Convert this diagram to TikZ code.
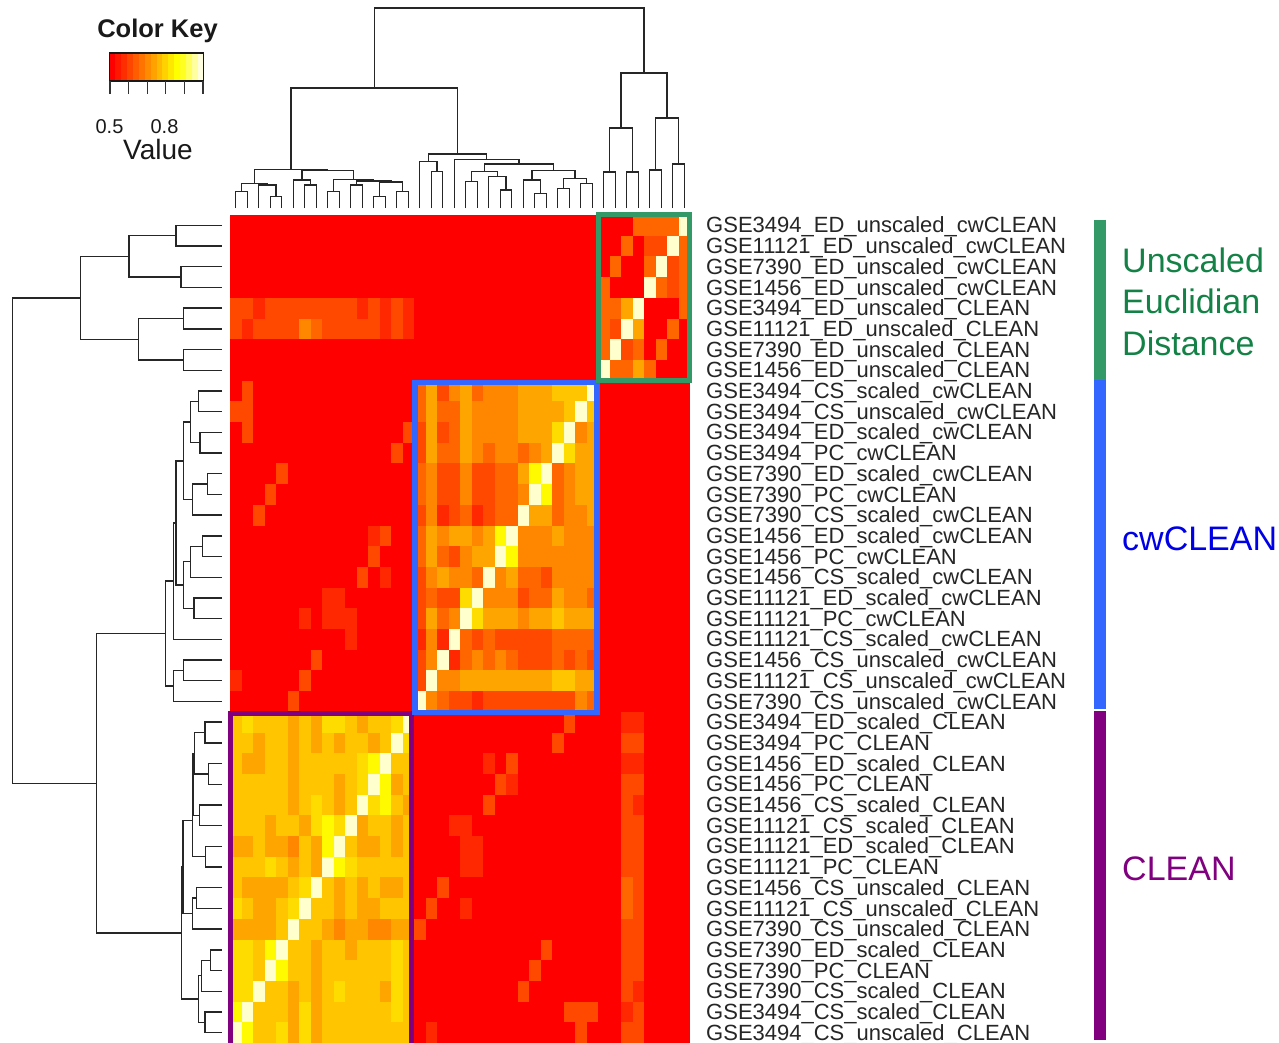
\documentclass[tikz,border=0pt]{standalone}
\usepackage{fontspec}
\setmainfont{Liberation Sans}
\usetikzlibrary{calc}
\definecolor{hma}{RGB}{255,0,0}
\definecolor{hmb}{RGB}{255,40,0}
\definecolor{hmc}{RGB}{255,72,0}
\definecolor{hmd}{RGB}{255,102,0}
\definecolor{hme}{RGB}{255,135,0}
\definecolor{hmf}{RGB}{255,165,0}
\definecolor{hmg}{RGB}{255,198,0}
\definecolor{hmh}{RGB}{255,220,0}
\definecolor{hmy}{RGB}{255,250,0}
\definecolor{hmw}{RGB}{255,255,205}
\definecolor{grpgreen}{RGB}{51,153,102}
\definecolor{txtgreen}{RGB}{20,130,70}
\definecolor{grpblue}{RGB}{51,102,255}
\definecolor{txtblue}{RGB}{0,0,230}
\definecolor{grppurple}{RGB}{128,0,128}
\newcount\hmcol
\newcount\hmrowc
\def\hmrow#1{\global\hmcol=0 \hmloop#1\relax\global\advance\hmrowc by 1 }
\def\hmloop#1{\ifx#1\relax\else\hmcell#1\global\advance\hmcol by 1 \expandafter\hmloop\fi}
\def\hmcell#1{\fill[hm#1] ({230+11.5*\the\hmcol},{-215-20.7*\the\hmrowc}) rectangle ++(11.9,-21.1);}
\newcommand\tmerge[4]{\path let \p1=(#2), \p2=(#3) in coordinate (#1) at ({(\x1+\x2)/2},{-#4pt});
  \draw[dendro] (#2) |- (#1) -| (#3);}
\newcommand\lmerge[4]{\path let \p1=(#2), \p2=(#3) in coordinate (#1) at ({#4pt},{(\y1+\y2)/2});
  \draw[dendro] (#2) -| (#1) |- (#3);}
\begin{document}
\begin{tikzpicture}[x=1pt,y=1pt,
  dendro/.style={line width=1.4pt, black!85},
  lab/.style={anchor=base west, inner sep=0pt, font=\fontsize{22}{22}\selectfont, text=black!85},
  grp/.style={anchor=base west, inner sep=0pt, font=\fontsize{34}{34}\selectfont},
  keytxt/.style={anchor=base, inner sep=0pt, text=black!90}]
\path[use as bounding box] (0,0) rectangle (1279,-1042);
\clip (0,0) rectangle (1279,-1042);
\fill[white] (0,0) rectangle (1279,-1042);

% ---------------- heatmap ----------------
\global\hmrowc=0
\hmrow{aaaaaaaaaaaaaaaa aaaaaaaaaaaaaaaa aaaddddw}
\hmrow{aaaaaaaaaaaaaaaa aaaaaaaaaaaaaaaa aadaccwd}
\hmrow{aaaaaaaaaaaaaaaa aaaaaaaaaaaaaaaa adaadwcd}
\hmrow{aaaaaaaaaaaaaaaa aaaaaaaaaaaaaaaa daaawdcd}
\hmrow{ccbccccccccbcbcb aaaaaaaaaaaaaaaa ddfwaaad}
\hmrow{cbccccedcccccbcb aaaaaaaaaaaaaaaa dcwfaada}
\hmrow{aaaaaaaaaaaaaaaa aaaaaaaaaaaaaaaa dwcdadaa}
\hmrow{aaaaaaaaaaaaaaaa aaaaaaaaaaaaaaaa wddfdaaa}
\hmrow{acaaaaaaaaaaaaaa dfcefdeeefffgggw aaaaaaaa}
\hmrow{ccaaaaaaaaaaaaaa dfddfeeeeffffgwg aaaaaaaa}
\hmrow{acaaaaaaaaaaaaac cfcdfeeeefffhwef aaaaaaaa}
\hmrow{aaaaaaaaaaaaaaca cfddfedeedefwhff aaaaaaaa}
\hmrow{aaaacaaaaaaaaaaa decceccddfywdeff aaaaaaaa}
\hmrow{aaacaaaaaaaaaaaa decceccddewydeff aaaaaaaa}
\hmrow{aacaaaaaaaaaaaaa cebcdbcddwffdeef aaaaaaaa}
\hmrow{aaaaaaaaaaaabcaa dfeffefyweeefeee aaaaaaaa}
\hmrow{aaaaaaaaaaaacaaa dfdceffwyeeeeeee aaaaaaaa}
\hmrow{aaaaaaaaaaacabaa cefeedwefddceeee aaaaaaaa}
\hmrow{aaaaaaaabbaaaaaa cdcchweeecddfeed aaaaaaaa}
\hmrow{aaaaaababbbaaaaa cfdewhfffeffgfff aaaaaaaa}
\hmrow{aaaaaaaaaabaaaaa bebwdcdcccccdddd aaaaaaaa}
\hmrow{aaaaaaacaaaaaaaa cewbdededcccdcdc aaaaaaaa}
\hmrow{baaaaacaaaaaaaaa cweeffffffffggff aaaaaaaa}
\hmrow{aaaaacaaaaaaaaaa wedccbcccccccced aaaaaaaa}
\hmrow{ghgggfgfhhgfgghw aaaaaaaaaaaaacaa aabbaaaa}
\hmrow{ggfggfgfgfggfgwh aaaaaaaaaaaacaaa aaccaaaa}
\hmrow{gffggfggggghywgg aaaaaabacaaaaaaa aabbaaaa}
\hmrow{gggggfgggfghwyfg aaaaaaacbaaaaaaa aaccaaaa}
\hmrow{gggggfghgfgwhygf aaaaaacaaaaaaaaa aacbaaaa}
\hmrow{gggfggfhyhwfggfg aaabbaaaaaaaaaaa aaccaaaa}
\hmrow{ffgffegfywgffgfg aaaabbaaaaaaaaaa aaccaaaa}
\hmrow{ggghgfgfwyhggggg aaaabbaaaaaaaaaa aaccaaaa}
\hmrow{gffffghwgfgfgffg aacaaaaaaaaaaaaa aadcaaaa}
\hmrow{hgffghwggfgffggg acaabaaaaaaaaaaa aadcaaaa}
\hmrow{ffffgwggfeffeeff caaaaaaaaaaaaaaa aaccaaaa}
\hmrow{hhgywggfggfggghg aaaaaaaaaaacaaaa aaccaaaa}
\hmrow{hhgwyggfgggggghg aaaaaaaaaacaaaaa aaccaaaa}
\hmrow{hhwggfgfghgggfhg aaaaaaaaacaaaaaa aacbaaaa}
\hmrow{ywgggfhfgggggghg aaaaaaaaaaaaaccc aabcaaaa}
\hmrow{wygghfhfgggggggg abaaaaaaaaaaaaca aaccaaaa}

% group boxes on the heatmap
\draw[grppurple, line width=5pt] (230,-1060) -- (230,-713.5) -- (411.8,-713.5) -- (411.8,-1060);
\draw[grpblue, line width=5.5pt] (415,-382.5) rectangle (597.2,-712.5);
\draw[grpgreen, line width=4.5pt] (598.5,-214.7) rectangle (689.7,-380.5);

% ---------------- top dendrogram ----------------
\foreach \j in {1,...,40} \coordinate (T\j) at ({224.25+11.5*\j},-208);
\tmerge{t12}{T1}{T2}{191.7}
\tmerge{t45}{T4}{T5}{196.7}
\tmerge{t345}{T3}{t45}{185}
\tmerge{tL}{t12}{t345}{183.3}
\tmerge{t78}{T7}{T8}{185}
\tmerge{tM}{T6}{t78}{180}
\tmerge{t910}{T9}{T10}{191.7}
\tmerge{t1112}{T11}{T12}{185}
\tmerge{t1314}{T13}{T14}{196.7}
\tmerge{t1516}{T15}{T16}{191.7}
\tmerge{tY}{t1314}{t1516}{182}
\tmerge{tX}{t1112}{tY}{181}
\tmerge{tN}{t910}{tX}{179.3}
\tmerge{tR}{tM}{tN}{170.7}
\tmerge{tC}{tL}{tR}{169.3}
\tmerge{t1819}{T18}{T19}{171.7}
\tmerge{tA}{T17}{t1819}{161.7}
\tmerge{t2122}{T21}{T22}{181.7}
\tmerge{t2425}{T24}{T25}{190}
\tmerge{t2325}{T23}{t2425}{176.7}
\tmerge{tD}{t2122}{t2325}{171.7}
\tmerge{t2728}{T27}{T28}{193.3}
\tmerge{t2628}{T26}{t2728}{180}
\tmerge{t2930}{T29}{T30}{188.3}
\tmerge{t3132}{T31}{T32}{183.3}
\tmerge{t2932}{t2930}{t3132}{178.3}
\tmerge{tE}{t2628}{t2932}{170.7}
\tmerge{tCC}{tD}{tE}{164}
\tmerge{tB}{T20}{tCC}{159.3}
\tmerge{tW}{tA}{tB}{154}
\tmerge{t3334}{T33}{T34}{172}
\tmerge{t3536}{T35}{T36}{172}
\tmerge{t3336}{t3334}{t3536}{128}
\tmerge{t3738}{T37}{T38}{170}
\tmerge{t3940}{T39}{T40}{164}
\tmerge{t3740}{t3738}{t3940}{118}
\tmerge{tU}{t3336}{t3740}{73}
\tmerge{tCW}{tC}{tW}{88}
\tmerge{troot}{tCW}{tU}{8}

% ---------------- left dendrogram ----------------
\foreach \r in {1,...,40} \coordinate (L\r) at (222,{-(204.65+20.7*\r)});
\lmerge{u12}{L1}{L2}{176}
\lmerge{u34}{L3}{L4}{181}
\lmerge{u14}{u12}{u34}{129}
\lmerge{u56}{L5}{L6}{183.7}
\lmerge{u78}{L7}{L8}{183.3}
\lmerge{u58}{u56}{u78}{138.3}
\lmerge{uall}{u14}{u58}{80.7}
\lmerge{w910}{L9}{L10}{198.3}
\lmerge{w1112}{L11}{L12}{200}
\lmerge{wA}{w910}{w1112}{190.7}
\lmerge{w1314}{L13}{L14}{207.3}
\lmerge{wB}{w1314}{L15}{192.7}
\lmerge{wP}{wA}{wB}{183.3}
\lmerge{w1617}{L16}{L17}{202.7}
\lmerge{wC}{w1617}{L18}{190.7}
\lmerge{w1920}{L19}{L20}{194}
\lmerge{wQ}{wC}{w1920}{183.3}
\lmerge{wPQ}{wP}{wQ}{176}
\lmerge{wR}{wPQ}{L21}{173.3}
\lmerge{w2223}{L22}{L23}{183.3}
\lmerge{wS}{w2223}{L24}{173.3}
\lmerge{wall}{wR}{wS}{165.7}
\lmerge{c2526}{L25}{L26}{205}
\lmerge{c2728}{L27}{L28}{208.3}
\lmerge{cB1}{c2526}{c2728}{194.3}
\lmerge{c2930}{L29}{L30}{199.3}
\lmerge{cB2}{cB1}{c2930}{193}
\lmerge{c3132}{L31}{L32}{205.7}
\lmerge{cB3}{cB2}{c3132}{192.7}
\lmerge{c3334}{L33}{L34}{196.7}
\lmerge{cB4}{c3334}{L35}{192.7}
\lmerge{cB5}{cB3}{cB4}{183}
\lmerge{c3637}{L36}{L37}{210.7}
\lmerge{c3638}{c3637}{L38}{201.7}
\lmerge{c3940}{L39}{L40}{205}
\lmerge{cB6}{c3638}{c3940}{198.3}
\lmerge{call}{cB5}{cB6}{181.7}
\lmerge{cwc}{wall}{call}{96.7}
\lmerge{lroot}{uall}{cwc}{12.3}

% ---------------- row labels ----------------
\foreach \t [count=\i] in {GSE3494\_ED\_unscaled\_cwCLEAN, GSE11121\_ED\_unscaled\_cwCLEAN,
  GSE7390\_ED\_unscaled\_cwCLEAN, GSE1456\_ED\_unscaled\_cwCLEAN, GSE3494\_ED\_unscaled\_CLEAN,
  GSE11121\_ED\_unscaled\_CLEAN, GSE7390\_ED\_unscaled\_CLEAN, GSE1456\_ED\_unscaled\_CLEAN,
  GSE3494\_CS\_scaled\_cwCLEAN, GSE3494\_CS\_unscaled\_cwCLEAN, GSE3494\_ED\_scaled\_cwCLEAN,
  GSE3494\_PC\_cwCLEAN, GSE7390\_ED\_scaled\_cwCLEAN, GSE7390\_PC\_cwCLEAN,
  GSE7390\_CS\_scaled\_cwCLEAN, GSE1456\_ED\_scaled\_cwCLEAN, GSE1456\_PC\_cwCLEAN,
  GSE1456\_CS\_scaled\_cwCLEAN, GSE11121\_ED\_scaled\_cwCLEAN, GSE11121\_PC\_cwCLEAN,
  GSE11121\_CS\_scaled\_cwCLEAN, GSE1456\_CS\_unscaled\_cwCLEAN, GSE11121\_CS\_unscaled\_cwCLEAN,
  GSE7390\_CS\_unscaled\_cwCLEAN, GSE3494\_ED\_scaled\_CLEAN, GSE3494\_PC\_CLEAN,
  GSE1456\_ED\_scaled\_CLEAN, GSE1456\_PC\_CLEAN, GSE1456\_CS\_scaled\_CLEAN,
  GSE11121\_CS\_scaled\_CLEAN, GSE11121\_ED\_scaled\_CLEAN, GSE11121\_PC\_CLEAN,
  GSE1456\_CS\_unscaled\_CLEAN, GSE11121\_CS\_unscaled\_CLEAN, GSE7390\_CS\_unscaled\_CLEAN,
  GSE7390\_ED\_scaled\_CLEAN, GSE7390\_PC\_CLEAN, GSE7390\_CS\_scaled\_CLEAN,
  GSE3494\_CS\_scaled\_CLEAN, GSE3494\_CS\_unscaled\_CLEAN}
  \node[lab] (lab\i) at (706,{-(204.65+20.7*\i+7.6)}) {\t};

% ---------------- group bars and labels ----------------
\draw[grpgreen, line width=12pt] (1100,-219.5) -- (1100,-379.5);
\draw[grpblue, line width=12pt] (1100,-379.5) -- (1100,-709);
\draw[grppurple, line width=12pt] (1100,-711) -- (1100,-1040);
\node[grp, text=txtgreen] (gU1) at (1122,-272) {Unscaled};
\node[grp, text=txtgreen] (gU2) at (1122,-313.5) {Euclidian};
\node[grp, text=txtgreen] (gU3) at (1122,-355) {Distance};
\node[grp, text=txtblue] (gW) at (1122,-550) {cwCLEAN};
\node[grp, text=grppurple] (gC) at (1122,-880) {CLEAN};

% ---------------- colour key ----------------
\foreach \g [count=\k from 0] in {0,23,46,70,93,116,139,162,185,209,232,255} {
  \definecolor{kc}{RGB}{255,\g,0}
  \fill[kc] ({109.5+5.875*\k},-53) rectangle ++(6.1,-28);
}
\foreach \bl [count=\k from 12] in {32,96,159,223} {
  \definecolor{kc}{RGB}{255,255,\bl}
  \fill[kc] ({109.5+5.875*\k},-53) rectangle ++(6.1,-28);
}
\draw[black!90, line width=1.2pt] (109.5,-53) rectangle (203.5,-81);
\draw[black!90, line width=2pt] (109.5,-81) -- (203.5,-81);
\foreach \x in {110,128.6,147.2,165.8,184.4,203} \draw[black!80, line width=1.3pt] (\x,-81) -- (\x,-94);
\node[keytxt, font=\bfseries\fontsize{25.5}{25.5}\selectfont] (ck) at (157.5,-37) {Color Key};
\node[keytxt, font=\fontsize{20}{20}\selectfont] (k05) at (109.5,-133) {0.5};
\node[keytxt, font=\fontsize{20}{20}\selectfont] (k08) at (164.5,-133) {0.8};
\node[keytxt, font=\fontsize{28}{28}\selectfont] (kv) at (158,-159) {Value};
\end{tikzpicture}
\end{document}
